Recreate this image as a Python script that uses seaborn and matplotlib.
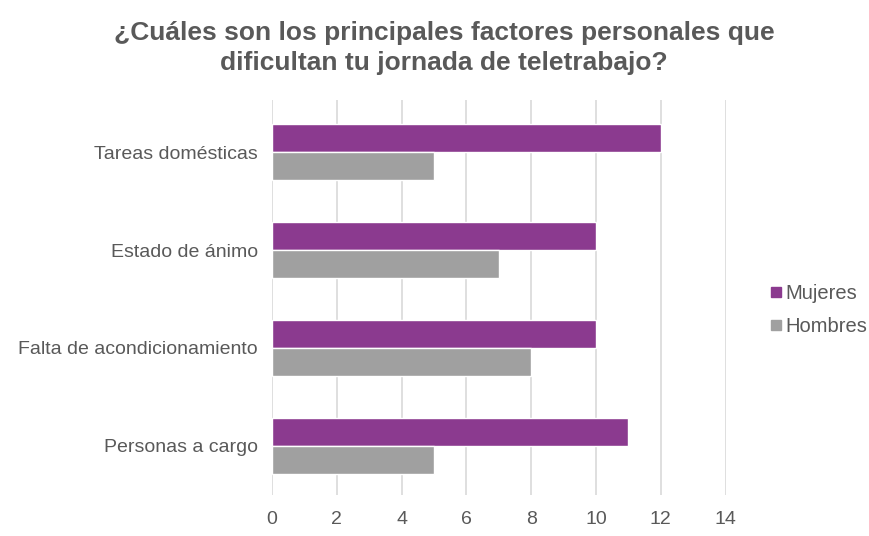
import pandas as pd
import matplotlib.pyplot as plt
import seaborn as sns
from matplotlib.lines import Line2D

# data

categorias = ['Tareas domésticas', 'Estado de ánimo', 'Falta de acondicionamiento', 'Personas a cargo']
mujeres = [12, 10, 10, 11]
hombres = [5, 7, 8, 5]
grupos = ['Mujeres', 'Hombres']
colores = ['#8B3A8F', '#A0A0A0']
ticks_x = [0, 2, 4, 6, 8, 10, 12, 14]

df = pd.DataFrame({
    'factor': categorias * 2,
    'valor': mujeres + hombres,
    'grupo': ['Mujeres'] * len(categorias) + ['Hombres'] * len(categorias),
})

sns.set_style('white')
plt.rcParams['font.family'] = ['Liberation Sans', 'DejaVu Sans']
gris = '#595959'

fig = plt.figure(figsize=(8.69, 5.36), dpi=100)
ax = fig.add_axes([0.313, 0.077, 0.522, 0.736])

sns.barplot(data=df, y='factor', x='valor', hue='grupo', hue_order=grupos,
            palette=colores, orient='h', width=0.57, saturation=1,
            ax=ax, legend=False)

ax.set_xlim(0, 14)
ax.set_ylim(3.5, -0.53)
ax.set_xticks(ticks_x)
ax.xaxis.grid(True, color='#D9D9D9', linewidth=1.2)
ax.set_axisbelow(True)
for s in ax.spines.values():
    s.set_visible(False)
ax.tick_params(axis='both', length=0, labelsize=14, labelcolor=gris)
ax.tick_params(axis='y', pad=10)
ax.tick_params(axis='x', pad=12)
ax.set_xlabel('')
ax.set_ylabel('')

fig.suptitle('¿Cuáles son los principales factores personales que\ndificultan tu jornada de teletrabajo?',
             x=0.511, y=0.96, fontsize=19, fontweight='bold', color=gris, linespacing=1.3)

handles = [Line2D([], [], marker='s', linestyle='', color=c, markersize=7) for c in colores]
fig.legend(handles, grupos, loc='center left', bbox_to_anchor=(0.882, 0.422),
           frameon=False, fontsize=14.5, labelcolor=gris, handletextpad=0.05,
           labelspacing=0.7, handlelength=0.9, borderpad=0, borderaxespad=0)

plt.savefig('out.png', dpi=100)
